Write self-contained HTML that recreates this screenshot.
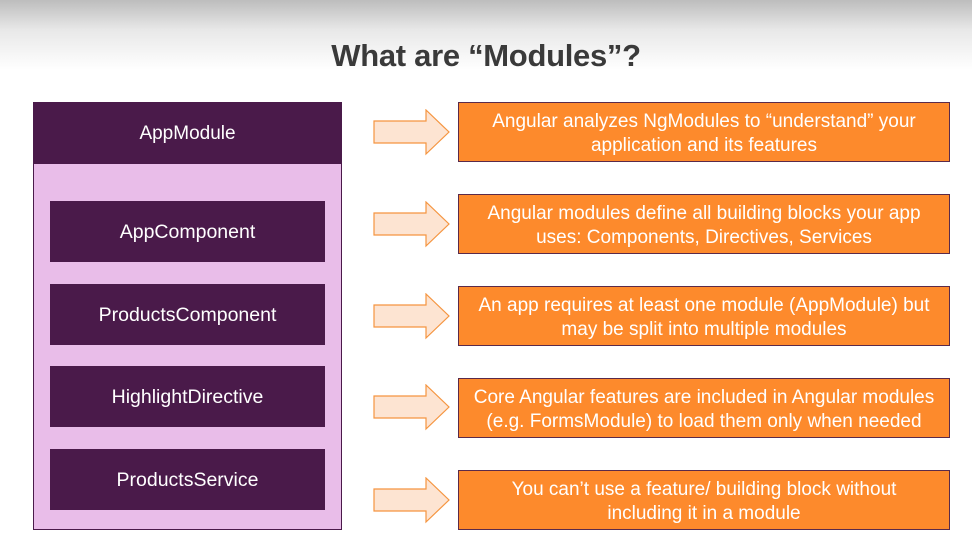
<!DOCTYPE html>
<html><head><style>
body{margin:0;width:972px;height:552px;overflow:hidden;position:relative;font-family:"Liberation Sans",sans-serif;background:linear-gradient(#bdbdbd 0px,#e8e8e8 30px,#fff 70px,#fff 100%);}
.t{position:absolute;top:38px;left:0;width:972px;text-align:center;font-size:31px;font-weight:bold;color:#3a3a3a;letter-spacing:-0.3px}
.mod{position:absolute;left:33px;top:102px;width:307px;height:426px;background:#e9bde9;border:1px solid #4a1a4a}
.hd{position:absolute;left:33px;top:102px;width:309px;height:62px;padding-top:2px;box-sizing:border-box;background:#4a1a4a;color:#fff;font-size:19px;display:flex;align-items:center;justify-content:center}
.c{position:absolute;left:50px;width:275px;height:61px;padding-top:2px;box-sizing:border-box;background:#4a1a4a;color:#fff;font-size:19.5px;display:flex;align-items:center;justify-content:center}
.o{position:absolute;left:458px;width:490px;height:58px;padding-top:3px;box-sizing:content-box;background:#fd8a2c;border:1px solid #5a2a4a;color:#fff;font-size:19px;line-height:24px;display:flex;align-items:center;justify-content:center;text-align:center}
.o{height:55px}
svg{position:absolute;left:373px}
</style></head><body>
<div class="t">What are “Modules”?</div>
<div class="mod"></div>
<div class="hd">AppModule</div>
<div class="c" style="top:201px">AppComponent</div>
<div class="c" style="top:284px">ProductsComponent</div>
<div class="c" style="top:366px">HighlightDirective</div>
<div class="c" style="top:449px">ProductsService</div>
<svg style="top:109px" width="78" height="48"><polygon points="1,12 53,12 53,1 76,23 53,45 53,34 1,34" fill="#fde4d2" stroke="#f59540" stroke-width="1.2"/></svg>
<svg style="top:201px" width="78" height="48"><polygon points="1,12 53,12 53,1 76,23 53,45 53,34 1,34" fill="#fde4d2" stroke="#f59540" stroke-width="1.2"/></svg>
<svg style="top:293px" width="78" height="48"><polygon points="1,12 53,12 53,1 76,23 53,45 53,34 1,34" fill="#fde4d2" stroke="#f59540" stroke-width="1.2"/></svg>
<svg style="top:384px" width="78" height="48"><polygon points="1,12 53,12 53,1 76,23 53,45 53,34 1,34" fill="#fde4d2" stroke="#f59540" stroke-width="1.2"/></svg>
<svg style="top:477px" width="78" height="48"><polygon points="1,12 53,12 53,1 76,23 53,45 53,34 1,34" fill="#fde4d2" stroke="#f59540" stroke-width="1.2"/></svg>
<div class="o" style="top:102px">Angular analyzes NgModules to “understand” your<br>application and its features</div>
<div class="o" style="top:194px">Angular modules define all building blocks your app<br>uses: Components, Directives, Services</div>
<div class="o" style="top:286px">An app requires at least one module (AppModule) but<br>may be split into multiple modules</div>
<div class="o" style="top:378px">Core Angular features are included in Angular modules<br>(e.g. FormsModule) to load them only when needed</div>
<div class="o" style="top:470px">You can’t use a feature/ building block without<br>including it in a module</div>
</body></html>
